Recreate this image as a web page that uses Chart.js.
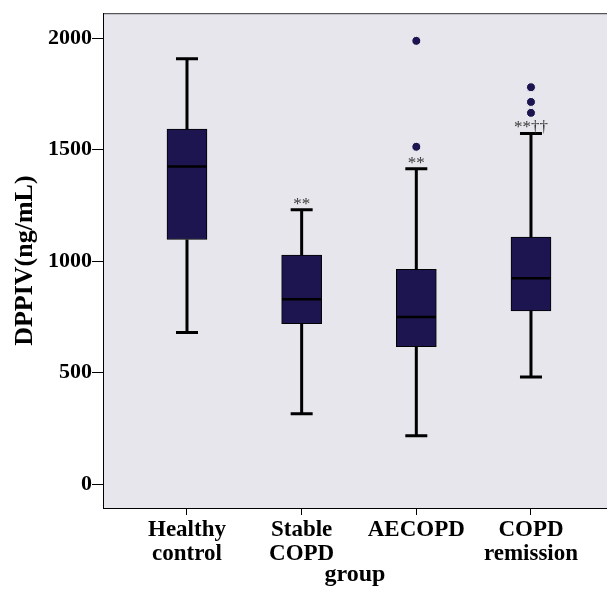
<!DOCTYPE html>
<html>
<head>
<meta charset="utf-8">
<script src="https://cdn.jsdelivr.net/npm/chart.js@4"></script>
<style>
  html, body { margin: 0; padding: 0; background: #ffffff; }
  canvas { display: block; }
</style>
</head>
<body>
<canvas id="c" width="607" height="589"></canvas>
<script>
// ---- data ----
const categories = [['Healthy', 'control'], ['Stable', 'COPD'], ['AECOPD'], ['COPD', 'remission']];
const whiskerLow  = [680, 316, 217, 481];
const q1          = [1097, 720, 617, 777];
const median      = [1425, 829, 750, 923];
const q3          = [1592, 1027, 963, 1108];
const whiskerHigh = [1908, 1231, 1414, 1573];
const outlierGroup = [3, 3, 4, 4, 4];
const outlierValue = [1513, 1988, 1665, 1714, 1780];
const marks = ['', '**', '**', '**\u2020\u2020'];
const yTicks = [0, 500, 1000, 1500, 2000];

const BOX = '#1d1550';
const SERIF = "'Liberation Serif', 'Times New Roman', serif";

const boxData = categories.map((c, i) => ({ x: i + 1, y: [q1[i], q3[i]] }));
const outData = outlierValue.map((v, i) => ({ x: outlierGroup[i], y: v }));

const boxPlugin = {
  id: 'boxparts',
  beforeDraw(chart) {
    const { ctx, chartArea: a } = chart;
    ctx.save();
    ctx.fillStyle = '#e6e6ec';
    ctx.fillRect(a.left, a.top, a.right - a.left, a.bottom - a.top);
    ctx.strokeStyle = '#333';
    ctx.lineWidth = 1;
    ctx.beginPath();
    ctx.moveTo(a.left, a.top + 0.5);
    ctx.lineTo(a.right, a.top + 0.5);
    ctx.stroke();
    ctx.restore();
  },
  beforeDatasetsDraw(chart) {
    const { ctx, scales: { x, y } } = chart;
    ctx.save();
    ctx.strokeStyle = '#000';
    ctx.lineCap = 'butt';
    categories.forEach((c, i) => {
      const px = x.getPixelForValue(i + 1);
      ctx.lineWidth = 3;
      ctx.beginPath();
      ctx.moveTo(px, y.getPixelForValue(q3[i]));
      ctx.lineTo(px, y.getPixelForValue(whiskerHigh[i]));
      ctx.moveTo(px, y.getPixelForValue(q1[i]));
      ctx.lineTo(px, y.getPixelForValue(whiskerLow[i]));
      ctx.stroke();
      ctx.lineWidth = 3;
      ctx.beginPath();
      [whiskerHigh[i], whiskerLow[i]].forEach(v => {
        const py = y.getPixelForValue(v);
        ctx.moveTo(px - 11, py);
        ctx.lineTo(px + 11, py);
      });
      ctx.stroke();
    });
    ctx.restore();
  },
  afterDatasetsDraw(chart) {
    const { ctx, scales: { x, y } } = chart;
    ctx.save();
    categories.forEach((c, i) => {
      const px = x.getPixelForValue(i + 1);
      const py = y.getPixelForValue(median[i]);
      ctx.strokeStyle = '#000';
      ctx.lineWidth = 2.5;
      ctx.beginPath();
      ctx.moveTo(px - 19.5, py);
      ctx.lineTo(px + 19.5, py);
      ctx.stroke();
      if (marks[i]) {
        ctx.fillStyle = '#3a3a3a';
        ctx.font = '17px ' + SERIF;
        ctx.textAlign = 'center';
        ctx.textBaseline = 'alphabetic';
        ctx.fillText(marks[i], px, y.getPixelForValue(whiskerHigh[i]) - 1);
      }
    });
    ctx.restore();
  }
};

new Chart(document.getElementById('c'), {
  type: 'bar',
  data: {
    datasets: [
      {
        type: 'bar',
        data: boxData,
        backgroundColor: BOX,
        borderColor: '#000',
        borderWidth: 1,
        borderSkipped: false,
        barThickness: 40,
        order: 2
      },
      {
        type: 'scatter',
        data: outData,
        backgroundColor: BOX,
        borderColor: '#f2f2f6',
        borderWidth: 1,
        pointRadius: 4.5,
        order: 1
      }
    ]
  },
  options: {
    responsive: false,
    animation: false,
    layout: { autoPadding: false, padding: { top: 11, left: 0, right: 0, bottom: 0 } },
    plugins: { legend: { display: false }, tooltip: { enabled: false } },
    scales: {
      x: {
        type: 'linear',
        offset: false,
        min: 0.2675,
        max: 4.663,
        afterBuildTicks(s) { s.ticks = categories.map((c, i) => ({ value: i + 1 })); },
        afterFit(s) { s.height = 81; s.paddingRight = 0; s.paddingLeft = 0; },
        ticks: {
          callback: v => categories[v - 1],
          color: '#000',
          font: { family: SERIF, size: 23, weight: 'bold', lineHeight: 1.05 },
          padding: 3,
          maxRotation: 0,
          autoSkip: false
        },
        grid: { offset: false, drawOnChartArea: false, drawTicks: true, tickLength: 7, color: '#000', tickWidth: 1 },
        border: { display: true, color: '#000', width: 1 },
        title: {
          display: true, text: 'group', color: '#000',
          font: { family: SERIF, size: 24, weight: 'bold' },
          padding: { top: 0, bottom: 0 }
        }
      },
      y: {
        type: 'linear',
        min: -107,
        max: 2112,
        afterBuildTicks(s) { s.ticks = yTicks.map(v => ({ value: v })); },
        afterFit(s) { s.width = 103; },
        ticks: {
          callback: v => String(v),
          color: '#000',
          font: { family: SERIF, size: 22, weight: 'bold' },
          padding: 0
        },
        grid: { drawOnChartArea: false, drawTicks: true, tickLength: 11, color: '#000', tickWidth: 1 },
        border: { display: true, color: '#000', width: 1 },
        title: {
          display: true, text: 'DPPIV(ng/mL)', color: '#000',
          font: { family: SERIF, size: 26, weight: 'bold' },
          padding: { top: 10, bottom: 0 }
        }
      }
    }
  },
  plugins: [boxPlugin]
});
</script>
</body>
</html>
